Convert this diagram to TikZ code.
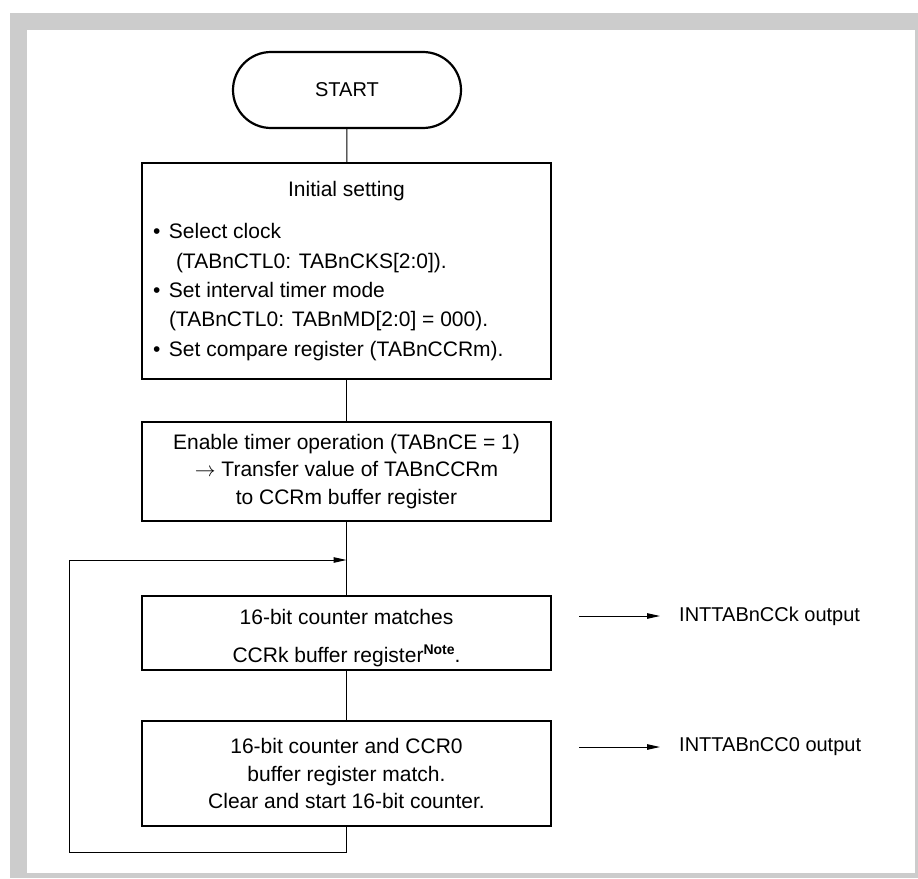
\documentclass[tikz,border=0pt]{standalone}
\usepackage{fontspec}
\setmainfont{Liberation Sans}
\usetikzlibrary{arrows.meta}
\definecolor{framegray}{HTML}{CCCCCC}
\begin{document}
\begin{tikzpicture}[x=1pt,y=-1pt,
  box/.style={draw, line width=2.2pt, minimum width=409pt, align=center, inner sep=0pt, font=\fontsize{21}{27.5}\selectfont},
  conn/.style={line width=1pt},
  arr/.style={line width=1pt, -{Triangle[length=13pt,width=5.5pt]}},
  outlbl/.style={anchor=west, inner sep=0pt, font=\fontsize{20}{24}\selectfont}]
\useasboundingbox (0,0) rectangle (918,878);
\fill[framegray] (10,13) rectangle (918,878);
\fill[white] (27,30) rectangle (915,873);
\node[draw, line width=2.2pt, rounded corners=38pt, minimum width=228pt, minimum height=76pt, font=\fontsize{20}{24}\selectfont] (start) at (347,90) {START};
\node[box, minimum height=216pt] (init) at (346.5,271) {\begin{minipage}{393pt}\fontsize{21}{29.3}\selectfont
\centering Initial setting\par\vspace{12.7pt}
\raggedright
\makebox[19pt][l]{\hspace{3pt}\textbullet}Select clock\\
\hspace*{26pt}(TABnCTL0: TABnCKS[2:0]).\\
\makebox[19pt][l]{\hspace{3pt}\textbullet}Set interval timer mode\\
\hspace*{19pt}(TABnCTL0: TABnMD[2:0] = 000).\\
\makebox[19pt][l]{\hspace{3pt}\textbullet}Set compare register (TABnCCRm).
\end{minipage}};
\node[box, minimum height=99pt] (enable) at (346.5,471.5) {Enable timer operation (TABnCE = 1)\\ $\rightarrow$ Transfer value of TABnCCRm\\ to CCRm buffer register};
\node[box, minimum height=74pt] (ccrk) at (346.5,633) {\rule{0pt}{25pt}16-bit counter matches\\[11pt] CCRk buffer register\raisebox{8pt}{\fontsize{14}{14}\selectfont\bfseries Note}.};
\node[box, minimum height=105pt] (ccr0) at (346.5,773.5) {16-bit counter and CCR0\\ buffer register match.\\ Clear and start 16-bit counter.};
\draw[conn] (start) -- (init);
\draw[conn] (init) -- (enable);
\draw[conn] (enable) -- (ccrk);
\draw[conn] (ccrk) -- (ccr0);
\coordinate (loopl) at (69,560);
\draw[arr] (ccr0.south) -- ++(0,25) -| (loopl) -- (loopl -| ccrk.north);
\node[outlbl] (o1) at (679,616) {INTTABnCCk output};
\node[outlbl] (o2) at (679,747) {INTTABnCC0 output};
\coordinate (a1) at (579,616);
\coordinate (a2) at (579,747);
\draw[arr, shorten >=19pt] (a1) -- (o1.west);
\draw[arr, shorten >=19pt] (a2) -- (o2.west);
\end{tikzpicture}
\end{document}
